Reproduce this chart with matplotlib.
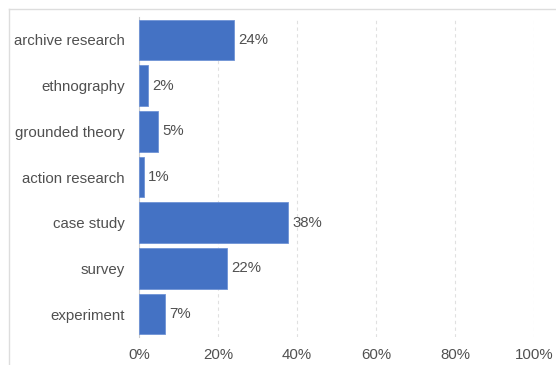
import matplotlib.pyplot as plt
from matplotlib.lines import Line2D
from matplotlib.ticker import FuncFormatter

plt.rcParams['font.family'] = ['Liberation Sans', 'DejaVu Sans']

methods = ["archive research", "ethnography", "grounded theory", "action research",
           "case study", "survey", "experiment"]
shares = [24.1, 2.4, 4.9, 1.2, 37.8, 22.3, 6.7]
x_ticks = [0, 20, 40, 60, 80, 100]

bar_color = "#4472c4"
text_color = "#505050"
fs = 10.8

fig = plt.figure(figsize=(5.56, 3.65), dpi=100)
ax = fig.add_axes([0.25, 0.0767, 0.7104, 0.8767])

pos = list(range(len(methods)))
ax.barh(pos, shares, height=0.89, color=bar_color, edgecolor="#6f93d6", linewidth=0.6, zorder=3)
for p, v in zip(pos, shares):
    ax.text(v + 1.0, p, f"{v:.0f}%", va="center", ha="left", fontsize=fs, color=text_color)

ax.set_yticks(pos)
ax.set_yticklabels(methods)
ax.set_ylim(len(methods) - 0.5, -0.5)
ax.set_xlim(0, 100)
ax.set_xticks(x_ticks)
ax.xaxis.set_major_formatter(FuncFormatter(lambda v, _: f"{v:.0f}%"))
ax.tick_params(axis="both", length=0, labelsize=fs, labelcolor=text_color)
ax.tick_params(axis="x", pad=8)
ax.tick_params(axis="y", pad=10)

ax.grid(axis="x", color="#e0e0e0", linestyle=(0, (3, 3)), linewidth=0.8, zorder=0)
for s in ["top", "right", "bottom"]:
    ax.spines[s].set_visible(False)
ax.spines["left"].set_color("#cccccc")
ax.spines["left"].set_linewidth(0.8)

# outer frame, only top and left edges show
fig.add_artist(Line2D([9 / 556, 1.0], [1 - 9 / 365, 1 - 9 / 365], transform=fig.transFigure,
                      color="#dddddd", linewidth=1.0))
fig.add_artist(Line2D([9 / 556, 9 / 556], [0.0, 1 - 9 / 365], transform=fig.transFigure,
                      color="#dddddd", linewidth=1.0))

fig.savefig("out.png", dpi=100)
